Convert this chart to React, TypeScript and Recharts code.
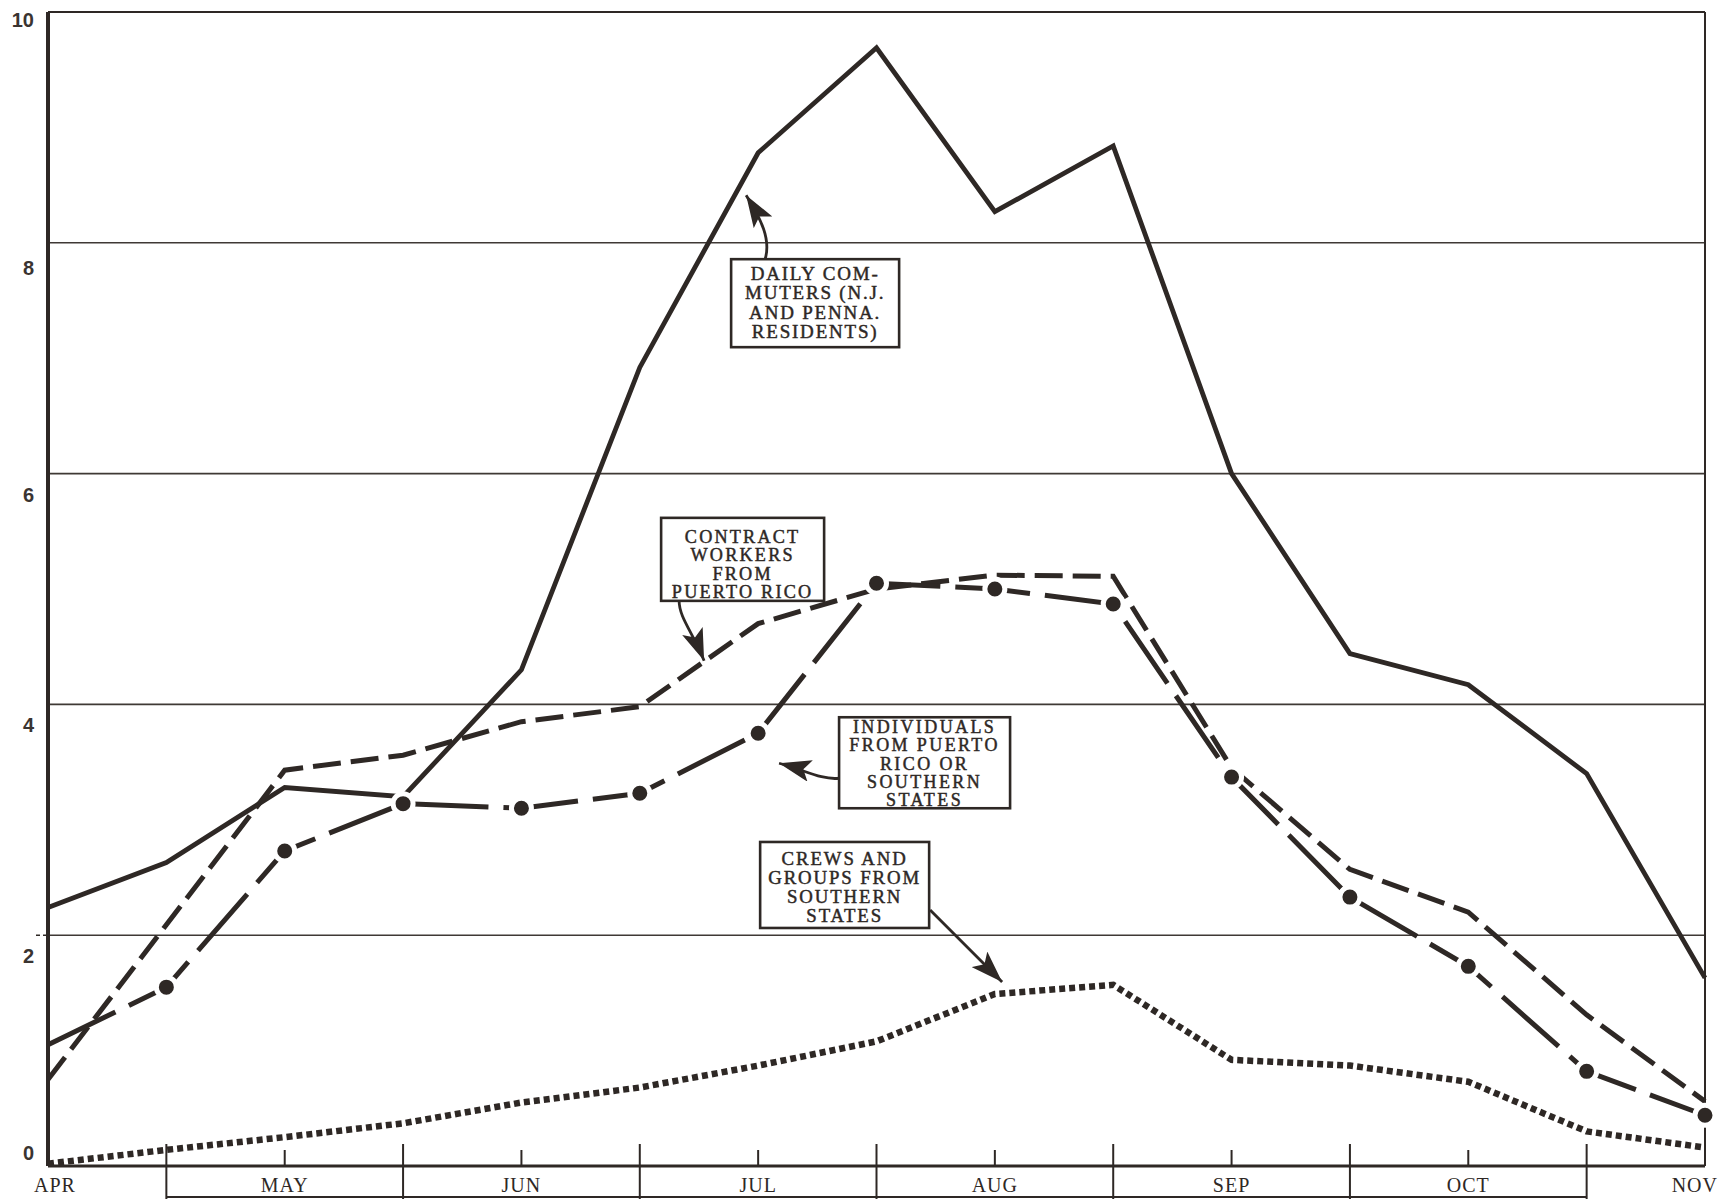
import React from 'react'
import {
  LineChart,
  Line,
  XAxis,
  YAxis,
  CartesianGrid,
  ReferenceLine,
  ReferenceDot,
} from 'recharts'

// Month labels (APR..NOV) and half-month positions on the x axis
const MONTHS = ['APR', 'MAY', 'JUN', 'JUL', 'AUG', 'SEP', 'OCT', 'NOV']
const HALF_MONTHS = [0, 0.5, 1, 1.5, 2, 2.5, 3, 3.5, 4, 4.5, 5, 5.5, 6, 6.5, 7]
const Y_TICKS = [0, 2, 4, 6, 8, 10]

// Workers (thousands), read at each half month
const COMMUTERS = [2.24, 2.63, 3.28, 3.2, 4.3, 6.92, 8.78, 9.69, 8.27, 8.84, 6.0, 4.44, 4.17, 3.4, 1.63]
const CONTRACT_PR = [0.75, 2.09, 3.43, 3.56, 3.85, 3.98, 4.7, 5.0, 5.12, 5.11, 3.45, 2.57, 2.2, 1.31, 0.56]
const INDIVIDUALS = [1.05, 1.55, 2.73, 3.14, 3.1, 3.23, 3.75, 5.05, 5.0, 4.87, 3.37, 2.33, 1.73, 0.82, 0.44]
const CREWS = [0.02, 0.14, 0.25, 0.37, 0.55, 0.68, 0.87, 1.08, 1.49, 1.57, 0.92, 0.87, 0.73, 0.3, 0.16]

const W = 1722
const H = 1199
const MARGIN = { top: 12, right: 17, left: 0, bottom: 0 }
const Y_AXIS_W = 48
const X_AXIS_H = 33
const PLOT_W = W - MARGIN.left - MARGIN.right - Y_AXIS_W
const HALF_STEP = PLOT_W / (HALF_MONTHS.length - 1)

const INK = '#2e2825'
const SERIF = '"Liberation Serif", "Times New Roman", serif'

const chartData = HALF_MONTHS.map((m, i) => ({
  m,
  commuters: COMMUTERS[i],
  contract: CONTRACT_PR[i],
  individuals: INDIVIDUALS[i],
  crews: CREWS[i],
}))

// annotation boxes: anchored at the arrow tip (data coords), box offsets in px
const CALLOUTS = [
  {
    id: 'commuters',
    x: 2.945,
    y: 8.43,
    box: { dx: -14, dy: 66, w: 168, h: 88 },
    lines: ['DAILY COM-', 'MUTERS (N.J.', 'AND PENNA.', 'RESIDENTS)'],
    first: 21,
    gap: 19.3,
    size: 19,
    spacing: 1.8,
    arrow: 'M20,66 C26,46 16,26 1,2',
  },
  {
    id: 'contract',
    x: 2.776,
    y: 4.36,
    box: { dx: -44, dy: -145, w: 163, h: 83 },
    lines: ['CONTRACT', 'WORKERS', 'FROM', 'PUERTO RICO'],
    first: 25,
    gap: 18.5,
    size: 18.2,
    spacing: 2.2,
    arrow: 'M-26,-62 C-26,-45 -12,-30 -1,-2',
  },
  {
    id: 'individuals',
    x: 3.08,
    y: 3.49,
    box: { dx: 62, dy: -46, w: 171, h: 91 },
    lines: ['INDIVIDUALS', 'FROM PUERTO', 'RICO OR', 'SOUTHERN', 'STATES'],
    first: 16,
    gap: 18.2,
    size: 18,
    spacing: 2.4,
    arrow: 'M62,15 C44,17 26,6 2,0',
  },
  {
    id: 'crews',
    x: 4.035,
    y: 1.586,
    box: { dx: -243, dy: -141, w: 169, h: 86 },
    lines: ['CREWS AND', 'GROUPS FROM', 'SOUTHERN', 'STATES'],
    first: 23,
    gap: 19,
    size: 18.8,
    spacing: 1.9,
    arrow: 'M-73,-73 L-1,-1',
  },
]

function Callout({ cx, cy, spec }: any) {
  const { box, lines, first, gap, size, spacing, arrow, id } = spec
  const left = cx + box.dx
  const top = cy + box.dy
  const markerId = `arrow-${id}`
  return (
    <g>
      <defs>
        <marker
          id={markerId}
          viewBox="0 0 32 22"
          refX={32}
          refY={11}
          markerWidth={32}
          markerHeight={22}
          markerUnits="userSpaceOnUse"
          orient="auto"
        >
          <path d="M0,0 L32,11 L0,22 L7,11 z" fill={INK} />
        </marker>
      </defs>
      <path
        d={arrow}
        transform={`translate(${cx},${cy})`}
        fill="none"
        stroke={INK}
        strokeWidth={2.8}
        markerEnd={`url(#${markerId})`}
      />
      <rect
        x={left}
        y={top}
        width={box.w}
        height={box.h}
        fill="#fff"
        stroke={INK}
        strokeWidth={2.6}
      />
      {lines.map((t: string, i: number) => (
        <text
          key={t}
          x={left + box.w / 2}
          y={top + first + i * gap}
          textAnchor="middle"
          fontFamily={SERIF}
          fontSize={size}
          letterSpacing={spacing}
          fill={INK}
          stroke={INK}
          strokeWidth={0.45}
        >
          {t}
        </text>
      ))}
    </g>
  )
}

function XTick({ x, y, payload }: any) {
  const v = payload.value as number
  if (Number.isInteger(v)) {
    const first = v === 0
    const last = v === MONTHS.length - 1
    return (
      <g>
        {!first && !last && (
          <line x1={x} x2={x} y1={y} y2={y - 16} stroke={INK} strokeWidth={2} />
        )}
        <text
          x={first ? x - 14 : last ? x + 13 : x}
          y={y + 26}
          textAnchor={first ? 'start' : last ? 'end' : 'middle'}
          fontFamily={SERIF}
          fontSize={20}
          letterSpacing={1}
          fill={INK}
        >
          {MONTHS[v]}
        </text>
      </g>
    )
  }
  // month boxes below the axis run from one mid-month tick to the next
  return (
    <g>
      <line x1={x} x2={x} y1={y - 22} y2={y + 33} stroke={INK} strokeWidth={2} />
      {v < 6.5 && (
        <line x1={x} x2={x + 2 * HALF_STEP} y1={y + 31} y2={y + 31} stroke={INK} strokeWidth={2} />
      )}
    </g>
  )
}

function YTick({ x, y, payload }: any) {
  const v = payload.value as number
  // printed labels sit a little below their gridlines in the original
  const nudge = v === 0 ? -13 : v === 10 ? 8 : v === 8 ? 25 : 21
  return (
    <g>
      <text
        x={x - 14}
        y={y + nudge}
        textAnchor="end"
        dominantBaseline="central"
        fontFamily='"Liberation Sans", Arial, sans-serif'
        fontWeight={700}
        fontSize={20}
        fill="#3a3431"
      >
        {v}
      </text>
      {v === 2 && (
        <line x1={x - 12} x2={x} y1={y} y2={y} stroke={INK} strokeWidth={1.5} strokeDasharray="4 3" />
      )}
    </g>
  )
}

function IndividualDot(props: any) {
  const { cx, cy, index } = props
  if (index === 0) return <g key={`ind-${index}`} />
  return (
    <circle
      key={`ind-${index}`}
      cx={cx}
      cy={cy}
      r={10}
      fill={INK}
      stroke="#fff"
      strokeWidth={5}
    />
  )
}

export default function App() {
  return (
    <div
      style={{
        position: 'absolute',
        left: 0,
        top: 0,
        width: W,
        height: H,
        background: '#fff',
      }}
    >
      <LineChart width={W} height={H} data={chartData} margin={MARGIN}>
        <CartesianGrid
          vertical={false}
          stroke="#3f3935"
          strokeWidth={1.6}
        />
        <XAxis
          dataKey="m"
          type="number"
          domain={[0, 7]}
          ticks={HALF_MONTHS}
          interval={0}
          height={X_AXIS_H}
          tickSize={0}
          tickMargin={0}
          tickLine={false}
          axisLine={{ stroke: INK, strokeWidth: 3 }}
          tick={<XTick />}
        />
        <YAxis
          type="number"
          domain={[0, 10]}
          ticks={Y_TICKS}
          interval={0}
          width={Y_AXIS_W}
          tickSize={0}
          tickMargin={0}
          tickLine={false}
          axisLine={{ stroke: INK, strokeWidth: 4 }}
          tick={<YTick />}
        />
        <ReferenceLine x={7} stroke={INK} strokeWidth={2} />
        <ReferenceLine y={10} stroke={INK} strokeWidth={2} />

        <Line
          dataKey="commuters"
          type="linear"
          stroke={INK}
          strokeWidth={4.8}
          dot={false}
          isAnimationActive={false}
        />
        <Line
          dataKey="contract"
          type="linear"
          stroke={INK}
          strokeWidth={5}
          strokeDasharray="28 10"
          dot={false}
          isAnimationActive={false}
        />
        <Line
          dataKey="individuals"
          type="linear"
          stroke={INK}
          strokeWidth={5}
          strokeDasharray="75 15"
          dot={IndividualDot}
          isAnimationActive={false}
        />
        <Line
          dataKey="crews"
          type="linear"
          stroke={INK}
          strokeWidth={6.5}
          strokeDasharray="6 4"
          dot={false}
          isAnimationActive={false}
        />

        {CALLOUTS.map(c => (
          <ReferenceDot
            key={c.id}
            x={c.x}
            y={c.y}
            r={0}
            shape={(p: any) => <Callout cx={p.cx} cy={p.cy} spec={c} />}
          />
        ))}
      </LineChart>
    </div>
  )
}
